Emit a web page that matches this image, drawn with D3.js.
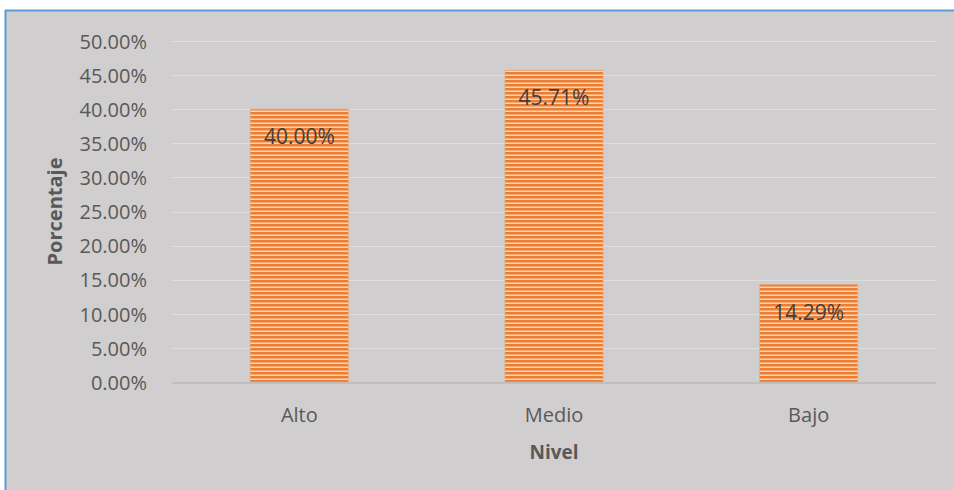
<!DOCTYPE html>
<html>
<head>
<meta charset="utf-8">
<script src="https://cdn.jsdelivr.net/npm/d3@7"></script>
<style>
  html, body { margin: 0; padding: 0; background: #ffffff; }
  svg { display: block; }
</style>
</head>
<body>
<svg id="chart" width="954" height="490"></svg>
<script>
// Nivel distribution (percent of respondents)
const categories = ["Alto", "Medio", "Bajo"];
const values = [0.40, 0.4571, 0.1429];
const valueLabels = ["40.00%", "45.71%", "14.29%"];
const tickValues = [0, 0.05, 0.10, 0.15, 0.20, 0.25, 0.30, 0.35, 0.40, 0.45, 0.50];
const yTitle = "Porcentaje";
const xTitle = "Nivel";

const svg = d3.select("#chart");
const W = 954, H = 490;
const font = "'Open Sans', 'Noto Sans', sans-serif";

// chart area background with blue frame on top/left
svg.append("rect").attr("x", 5).attr("y", 10).attr("width", W - 5).attr("height", H - 10)
  .attr("fill", "#d0cece");
svg.append("line").attr("x1", 5).attr("x2", W).attr("y1", 10.5).attr("y2", 10.5)
  .attr("stroke", "#5b9bd5").attr("stroke-width", 2);
svg.append("line").attr("x1", 5.5).attr("x2", 5.5).attr("y1", 10).attr("y2", H)
  .attr("stroke", "#5b9bd5").attr("stroke-width", 2);

// striped fill for the bars
const defs = svg.append("defs");
const pat = defs.append("pattern").attr("id", "stripes")
  .attr("patternUnits", "userSpaceOnUse").attr("width", 8).attr("height", 4);
pat.append("rect").attr("width", 8).attr("height", 4).attr("fill", "#ed7d31");
pat.append("rect").attr("y", 2.5).attr("width", 8).attr("height", 1.5).attr("fill", "#f9d6ba");

const plotLeft = 172, plotRight = 936, plotTop = 41, plotBottom = 382;

const x = d3.scaleBand().domain(categories).range([plotLeft, plotRight])
  .paddingInner(0.615).paddingOuter(0.3075);
const y = d3.scaleLinear().domain([0, 0.5]).range([plotBottom, plotTop]);

// gridlines
svg.append("g").selectAll("line").data(tickValues.filter(d => d > 0)).join("line")
  .attr("x1", plotLeft).attr("x2", plotRight)
  .attr("y1", d => Math.round(y(d)) + 0.5).attr("y2", d => Math.round(y(d)) + 0.5)
  .attr("stroke", "#dedede").attr("stroke-width", 1);

// y axis labels
const yAxis = d3.axisLeft(y).tickValues(tickValues).tickFormat(d3.format(".2%"))
  .tickSize(0).tickPadding(0);
const gy = svg.append("g").attr("transform", `translate(147,0)`).call(yAxis);
gy.select(".domain").remove();
gy.selectAll("text").attr("font-family", font).attr("font-size", 20)
  .attr("fill", "#595959").attr("dy", "0.36em");

// bars
svg.append("g").selectAll("rect").data(values).join("rect")
  .attr("x", (d, i) => x(categories[i]))
  .attr("y", d => y(d))
  .attr("width", x.bandwidth())
  .attr("height", d => plotBottom - y(d))
  .attr("fill", "url(#stripes)")
  .attr("stroke", "#f2a46f").attr("stroke-width", 1).attr("stroke-opacity", 0.6);

// x axis line
svg.append("line").attr("x1", plotLeft).attr("x2", plotRight)
  .attr("y1", plotBottom + 1).attr("y2", plotBottom + 1)
  .attr("stroke", "#bfbfbf").attr("stroke-width", 2);

// x axis labels
const xAxis = d3.axisBottom(x).tickSize(0).tickPadding(0);
const gx = svg.append("g").attr("transform", `translate(0,${plotBottom})`).call(xAxis);
gx.select(".domain").remove();
gx.selectAll("text").attr("font-family", font).attr("font-size", 20)
  .attr("fill", "#595959").attr("y", 40).attr("dy", 0);

// value labels
svg.append("g").selectAll("text").data(values).join("text")
  .attr("x", (d, i) => x(categories[i]) + x.bandwidth() / 2)
  .attr("y", d => y(d) + 35)
  .attr("text-anchor", "middle")
  .attr("font-family", font).attr("font-size", 21)
  .attr("fill", "#404040")
  .text((d, i) => valueLabels[i]);

// axis titles
svg.append("text").attr("x", (plotLeft + plotRight) / 2).attr("y", 459)
  .attr("text-anchor", "middle").attr("font-family", font).attr("font-size", 19)
  .attr("font-weight", "bold").attr("fill", "#595959").text(xTitle);
svg.append("text").attr("transform", `translate(62,${(plotTop + plotBottom) / 2}) rotate(-90)`)
  .attr("text-anchor", "middle").attr("font-family", font).attr("font-size", 20)
  .attr("font-weight", "bold").attr("fill", "#595959").text(yTitle);
</script>
</body>
</html>
